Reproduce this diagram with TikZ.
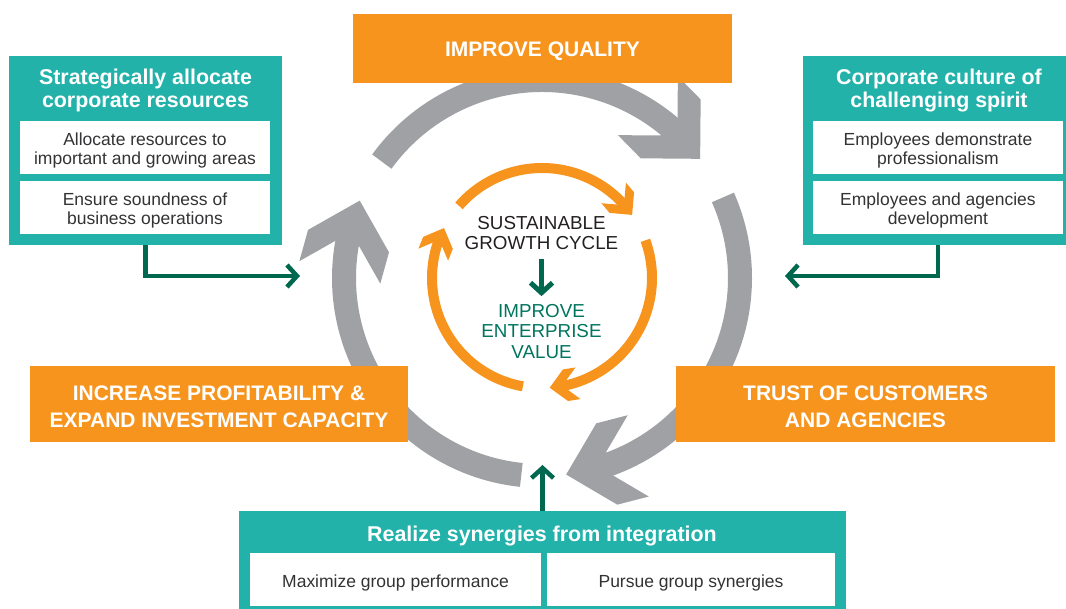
\documentclass[tikz,border=0pt]{standalone}
\usepackage{fontspec}
\setmainfont{Liberation Sans}
\usetikzlibrary{arrows.meta}
\definecolor{cycorange}{HTML}{F7941D}
\definecolor{cycgray}{HTML}{A0A1A5}
\definecolor{cycteal}{HTML}{22B2AA}
\definecolor{cycgreen}{HTML}{00684F}
\definecolor{valgreen}{HTML}{00755E}
\definecolor{inktext}{HTML}{231F20}
\definecolor{subtext}{HTML}{333335}

\begin{document}
\begin{tikzpicture}[x=1pt,y=1pt,
  stage/.style={fill=cycorange, inner sep=0pt, minimum width=379pt},
  stagetext/.style={text=white, font=\fontsize{21}{27}\selectfont\bfseries,
    align=center, inner sep=0pt},
  panel/.style={fill=cycteal, inner sep=0pt},
  paneltitle/.style={text=white, font=\fontsize{21.4}{22.5}\selectfont\bfseries,
    align=center, inner sep=0pt},
  item/.style={fill=white, inner sep=0pt, minimum height=53pt},
  itemtext/.style={text=subtext, font=\fontsize{17.5}{18.5}\selectfont,
    align=center, inner sep=0pt},
  core/.style={font=\fontsize{18.8}{20.5}\selectfont, align=center, inner sep=0pt},
  conn/.style={draw=cycgreen, line width=4.5pt, -{Straight Barb[length=10pt,width=22pt]}},
]
\useasboundingbox (0,0) rectangle (1066,609);

% outer grey cycle: three arcs, each ending in a chevron head
\begin{scope}[shift={(542,331)}]
\foreach \tl/\tp/\te in {144/37/45.8, 24/-83/-74.2, 264/157/165.8}{
  \draw[cycgray, line width=24pt] (\tl:198) arc[start angle=\tl, end angle=\te, radius=198pt];
  \fill[cycgray, shift={(\tp:198)}, rotate=\tp-82.5]
    (0,0) -- (-42,42) -- (-74.5,42) -- (-44.5,12) -- (-44.5,-12) -- (-74.5,-42) -- (-42,-42) -- cycle;
}
\end{scope}

% stages of the cycle
\node[stage, minimum height=69pt] (quality) at (542.5,560.5) {};
\node[stagetext] (qualitytext) at ([yshift=-3pt]quality.center) {IMPROVE QUALITY};
\node[stage, minimum height=76pt, minimum width=378pt] (profit) at (219,205) {};
\node[stagetext] (profittext) at ([yshift=-3pt]profit.center)
  {INCREASE PROFITABILITY \&\\EXPAND INVESTMENT CAPACITY};
\node[stage, minimum height=76pt] (trust) at (865.5,205) {};
\node[stagetext] (trusttext) at ([yshift=-3pt]trust.center) {TRUST OF CUSTOMERS\\AND AGENCIES};

% left panel
\node[panel, minimum width=273pt, minimum height=189pt] (alloc) at (145.5,458.5) {};
\node[paneltitle] (allochead) at (145.5,518.6) {Strategically allocate\\corporate resources};
\node[item, minimum width=250pt] (alloc1) at (145,461.5) {};
\node[itemtext] (alloc1text) at ([yshift=-3pt]alloc1.center) {Allocate resources to\\important and growing areas};
\node[item, minimum width=250pt] (alloc2) at (145,401.5) {};
\node[itemtext] (alloc2text) at ([yshift=-3pt]alloc2.center) {Ensure soundness of\\business operations};

% right panel
\node[panel, minimum width=263pt, minimum height=189pt] (culture) at (934.5,458.5) {};
\node[paneltitle] (culturehead) at (939,518.6) {Corporate culture of\\challenging spirit};
\node[item, minimum width=250pt] (culture1) at (938,461.5) {};
\node[itemtext] (culture1text) at ([yshift=-3pt]culture1.center) {Employees demonstrate\\professionalism};
\node[item, minimum width=250pt] (culture2) at (938,401.5) {};
\node[itemtext] (culture2text) at ([yshift=-3pt]culture2.center) {Employees and agencies\\development};

% bottom panel
\node[panel, minimum width=607pt, minimum height=98pt] (synergy) at (542.5,49) {};
\node[paneltitle, anchor=base] (synergyhead) at (542,67.5) {Realize synergies from integration};
\node[item, minimum width=291pt] (synergy1) at (395.5,29.5) {};
\node[itemtext] (synergy1text) at ([yshift=-3pt]synergy1.center) {Maximize group performance};
\node[item, minimum width=288pt] (synergy2) at (691,29.5) {};
\node[itemtext] (synergy2text) at ([yshift=-3pt]synergy2.center) {Pursue group synergies};

% inner orange cycle
\begin{scope}[shift={(542,331)}]
\foreach \tl/\tp/\te in {139/35/40.6, 20/-86/-80.4, 260/153/158.6}{
  \draw[cycorange, line width=10pt] (\tl:110) arc[start angle=\tl, end angle=\te, radius=110pt];
  \fill[cycorange, shift={(\tp:110)}, rotate=\tp-85]
    (0,0) -- (-16,16) -- (-28.7,16) -- (-17.7,5) -- (-17.7,-5) -- (-28.7,-16) -- (-16,-16) -- cycle;
}
\end{scope}

% centre text
\node[core, text=inktext] (cycle) at (541.5,376) {SUSTAINABLE\\GROWTH CYCLE};
\node[core, text=valgreen] (value) at (541.5,277.5) {IMPROVE\\ENTERPRISE\\VALUE};

% connectors
\coordinate (ltip) at (300,333);
\coordinate (rtip) at (785,333);
\coordinate (btip) at (542.5,144);
\draw[conn] (alloc.south) |- (ltip);
\draw[conn] (culture2.south |- culture.south) |- (rtip);
\draw[conn] (synergy.north) -- (btip);
\draw[conn, line width=5pt] ([yshift=-9pt]cycle.south) -- ([yshift=8pt]value.north);
\end{tikzpicture}
\end{document}
